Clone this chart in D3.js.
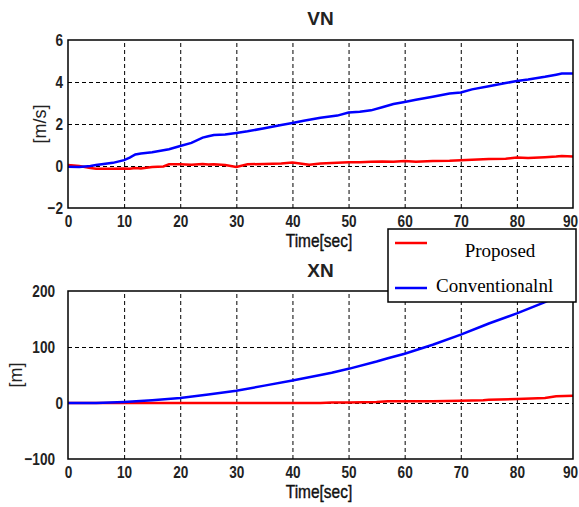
<!DOCTYPE html>
<html>
<head>
<meta charset="utf-8">
<script src="https://cdn.jsdelivr.net/npm/d3@7"></script>
<style>
  body { margin: 0; background: #fff; }
  svg { display: block; }
  .tick text { font-family: "Liberation Sans", Arial, sans-serif; font-weight: bold; font-size: 17px; fill: #222; }
  .grid line { stroke: #000; stroke-width: 1; stroke-dasharray: 4,3; }
  .grid path { display: none; }
</style>
</head>
<body>
<script>
// VN (velocity north) data
let vnTime = [0, 2, 4, 5, 8, 10, 11, 12, 13, 15, 17, 18, 20, 22, 24, 25, 26, 28, 30, 32, 35, 38, 40,
    42, 43, 45, 48, 50, 52, 54, 56, 58, 60, 62, 65, 68, 70, 72, 75, 78, 80, 82, 85, 87, 88, 90];
let vnConventional = [-0.03, -0.05, 0.0, 0.05, 0.15, 0.28, 0.4, 0.55, 0.6, 0.65, 0.75, 0.8, 0.95, 1.1, 1.35, 1.42, 1.48, 1.5, 1.57, 1.65, 1.8, 1.95, 2.05,
    2.15, 2.2, 2.3, 2.4, 2.55, 2.58, 2.65, 2.8, 2.95, 3.05, 3.15, 3.3, 3.45, 3.5, 3.65, 3.8, 3.95, 4.05, 4.12, 4.25, 4.35, 4.4, 4.4];
let vnProposed = [0.05, 0.0, -0.1, -0.13, -0.13, -0.12, -0.13, -0.1, -0.12, -0.05, -0.02, 0.08, 0.08, 0.06, 0.1, 0.07, 0.08, 0.05, -0.05, 0.08, 0.1, 0.12, 0.17,
    0.1, 0.06, 0.12, 0.15, 0.18, 0.18, 0.2, 0.22, 0.2, 0.24, 0.2, 0.24, 0.25, 0.27, 0.3, 0.33, 0.35, 0.4, 0.38, 0.42, 0.45, 0.48, 0.45];

// XN (position north) data
let xnTime = [0, 5, 10, 15, 20, 25, 30, 35, 40, 45, 47, 50, 55, 57, 60, 65, 70, 74, 75, 80, 85, 87, 90];
let xnConventional = [0, 0, 2, 5, 9, 15, 22, 31, 40, 50, 54, 61, 74, 80, 88, 104, 122, 138, 142, 160, 180, 190, 210];
let xnProposed = [0, 0, 0, 0, 0, 0, 0, 0, 0, 0, 1, 1, 2, 3, 3, 3, 4, 5, 6, 7, 9, 12, 13];

let xTicks = [0, 10, 20, 30, 40, 50, 60, 70, 80, 90];
let vnTicks = [-2, 0, 2, 4, 6];
let xnTicks = [-100, 0, 100, 200];

let legendNames = ['Proposed', 'Conventionalnl'];
let colors = { proposed: '#ff0000', conventional: '#0000ff' };

let width = 579, height = 507;
let squeeze = 0.8;   // tick labels are a narrow bold face in the original

let svg = d3.select('body').append('svg')
    .attr('width', width)
    .attr('height', height);

// draws one subplot
function drawPanel(opts) {
    let x = d3.scaleLinear().domain([0, 90]).range([opts.left, opts.right]);
    let y = d3.scaleLinear().domain(opts.ydomain).range([opts.bottom, opts.top]);
    let g = svg.append('g');

    // clip
    g.append('clipPath').attr('id', opts.id + '-clip')
        .append('rect')
        .attr('x', opts.left).attr('y', opts.top)
        .attr('width', opts.right - opts.left).attr('height', opts.bottom - opts.top);

    // grid
    g.append('g').attr('class', 'grid')
        .attr('transform', `translate(0,${opts.bottom})`)
        .call(d3.axisBottom(x).tickValues(xTicks.slice(1, -1)).tickSize(-(opts.bottom - opts.top)).tickFormat(''));
    g.append('g').attr('class', 'grid')
        .attr('transform', `translate(${opts.left},0)`)
        .call(d3.axisLeft(y).tickValues(opts.yticks.slice(1, -1)).tickSize(-(opts.right - opts.left)).tickFormat(''));

    // lines
    let lines = g.append('g').attr('clip-path', `url(#${opts.id}-clip)`);
    let line = d3.line()
        .x(d => x(d[0]))
        .y(d => y(d[1]));
    lines.append('path')
        .datum(d3.zip(opts.time, opts.proposed))
        .attr('d', line).attr('fill', 'none')
        .attr('stroke', colors.proposed).attr('stroke-width', 2.5);
    lines.append('path')
        .datum(d3.zip(opts.time, opts.conventional))
        .attr('d', line).attr('fill', 'none')
        .attr('stroke', colors.conventional).attr('stroke-width', 2.5);

    // frame
    g.append('rect')
        .attr('x', opts.left).attr('y', opts.top)
        .attr('width', opts.right - opts.left).attr('height', opts.bottom - opts.top)
        .attr('fill', 'none').attr('stroke', '#000').attr('stroke-width', 1.5);

    // tick labels
    let xa = g.append('g')
        .attr('transform', `translate(0,${opts.bottom})`)
        .call(d3.axisBottom(x).tickValues(xTicks).tickSize(0).tickPadding(7));
    xa.select('.domain').remove();
    xa.selectAll('.tick text')
        .attr('x', d => d === 90 ? -3 / squeeze : 0)   // keep the last label inside the window
        .attr('transform', `scale(${squeeze},1)`);

    let ya = g.append('g')
        .attr('transform', `translate(${opts.left},0)`)
        .call(d3.axisLeft(y).tickValues(opts.yticks).tickSize(0));
    ya.select('.domain').remove();
    ya.selectAll('.tick text')
        .attr('x', d => -opts.ypad(d) / squeeze)
        .attr('transform', `scale(${squeeze},1)`);

    // titles
    g.append('text')
        .attr('x', 320.5).attr('y', opts.titleY)
        .attr('text-anchor', 'middle')
        .style('font-family', '"Liberation Sans", Arial, sans-serif')
        .style('font-weight', 'bold').style('font-size', '19px')
        .style('fill', '#222')
        .text(opts.title);
    g.append('text')
        .attr('transform', `translate(319,${opts.bottom + 39}) scale(0.86,1)`)
        .attr('text-anchor', 'middle')
        .style('font-family', '"Liberation Sans", Arial, sans-serif')
        .style('font-size', '18px').style('fill', '#111')
        .style('stroke', '#111').style('stroke-width', 0.4)
        .text('Time[sec]');
    g.append('text')
        .attr('transform', `translate(${opts.ylabelX},${(opts.top + opts.bottom) / 2}) rotate(-90)`)
        .attr('text-anchor', 'middle')
        .style('font-family', '"Liberation Sans", Arial, sans-serif')
        .style('font-size', '18px').style('fill', '#222')
        .text(opts.ylabel);
}

drawPanel({
    id: 'vn', title: 'VN', titleY: 25, ylabel: '[m/s]', ylabelX: 46,
    ypad: d => 5,
    left: 68, right: 573, top: 40, bottom: 208,
    ydomain: [-2, 6], yticks: vnTicks,
    time: vnTime, proposed: vnProposed, conventional: vnConventional
});

drawPanel({
    id: 'xn', title: 'XN', titleY: 277, ylabel: '[m]', ylabelX: 22,
    ypad: d => d === 0 ? 5 : 13,
    left: 68, right: 573, top: 291, bottom: 459,
    ydomain: [-100, 200], yticks: xnTicks,
    time: xnTime, proposed: xnProposed, conventional: xnConventional
});

// legend
let legend = svg.append('g');
legend.append('rect')
    .attr('x', 388).attr('y', 229).attr('width', 188).attr('height', 73)
    .attr('fill', '#fff').attr('stroke', '#000').attr('stroke-width', 1.5);
let legendItems = [
    { name: legendNames[0], color: colors.proposed, ly: 243, tx: 500, ty: 257, anchor: 'middle' },
    { name: legendNames[1], color: colors.conventional, ly: 288, tx: 436, ty: 292, anchor: 'start' }
];
legendItems.forEach(function(d) {
    legend.append('line')
        .attr('x1', 395).attr('x2', 427).attr('y1', d.ly).attr('y2', d.ly)
        .attr('stroke', d.color).attr('stroke-width', 2.5);
    legend.append('text')
        .attr('x', d.tx).attr('y', d.ty)
        .attr('text-anchor', d.anchor)
        .style('font-family', '"Liberation Serif", "Times New Roman", serif')
        .style('font-size', '19px')
        .text(d.name);
});
</script>
</body>
</html>
